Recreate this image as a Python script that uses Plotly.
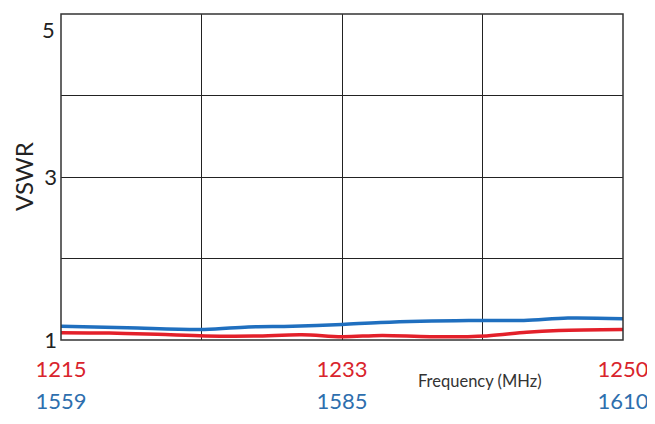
import numpy as np
import plotly.graph_objects as go

# Data
red_freq = [1215, 1218, 1221, 1224, 1227, 1230, 1232.5, 1235, 1238, 1241.5, 1244, 1246, 1250]
red_vswr = [1.09, 1.085, 1.07, 1.05, 1.048, 1.064, 1.04, 1.056, 1.04, 1.05, 1.096, 1.116, 1.128]
blue_freq = [1559, 1565, 1572, 1576, 1580, 1584.5, 1588, 1596, 1601, 1605, 1610]
blue_vswr = [1.168, 1.15, 1.13, 1.16, 1.168, 1.19, 1.216, 1.24, 1.24, 1.27, 1.26]

red_range = [1215, 1250]
blue_range = [1559, 1610]
red_ticktext = ["1215", "", "1233", "", "1250"]
blue_ticktext = ["1559", "", "1585", "", "1610"]
y_range = [1, 5]
y_ticktext = ["1", "", "3", "", "5"]
y_title = "VSWR"
x_title = "Frequency (MHz)"

RED = "#e3202a"
BLUE = "#1f6fbf"
RED_T = "#d9242c"
BLUE_T = "#2e6fae"
FONT = "Lato"

y_tickvals = list(np.linspace(*y_range, 5))

fig = go.Figure()
fig.add_trace(go.Scatter(x=red_freq, y=red_vswr, mode="lines", xaxis="x", yaxis="y",
                         line=dict(color=RED, width=3.5, shape="spline"), showlegend=False))
fig.add_trace(go.Scatter(x=blue_freq, y=blue_vswr, mode="lines", xaxis="x2", yaxis="y",
                         line=dict(color=BLUE, width=3.5, shape="spline"), showlegend=False))

fig.update_layout(
    width=647, height=416,
    margin=dict(l=53, r=32, t=6, b=84),
    paper_bgcolor="white", plot_bgcolor="white",
    font=dict(family=FONT, color="#222"),
    xaxis=dict(range=red_range, tickvals=list(np.linspace(*red_range, 5)), ticktext=red_ticktext,
               showgrid=True, gridcolor="#222", gridwidth=1, zeroline=False,
               showline=False,
               ticks="", ticklabelstandoff=14, automargin=False, ticklabeloverflow="allow",
               tickfont=dict(family=FONT, size=22, color=RED_T)),
    xaxis2=dict(range=blue_range, overlaying="x", side="bottom", anchor="y",
                tickvals=list(np.linspace(*blue_range, 5)), ticktext=blue_ticktext,
                showgrid=False, zeroline=False, showline=False, ticks="",
                ticklabelstandoff=46, automargin=False, ticklabeloverflow="allow",
                tickfont=dict(family=FONT, size=22, color=BLUE_T)),
    yaxis=dict(range=y_range, tickvals=y_tickvals[:-1], ticktext=y_ticktext[:-1],
               showgrid=True, gridcolor="#222", gridwidth=1, zeroline=False,
               showline=False,
               ticks="", ticklabelstandoff=3, automargin=False, ticklabeloverflow="allow",
               tickfont=dict(family=FONT, size=22, color="#222")),
    shapes=[dict(type="rect", xref="paper", yref="paper", x0=0, x1=1, y0=0, y1=1,
                 line=dict(color="#333", width=1.5), layer="above")],
    annotations=[
        dict(text=x_title, xref="paper", yref="paper", x=0.745, y=-0.1265,
             xanchor="center", yanchor="middle", showarrow=False,
             font=dict(family=FONT, size=16.5, color="#333")),
        dict(text=y_title, xref="paper", yref="paper", x=0, y=0.5, textangle=-90,
             xanchor="center", yanchor="middle", xshift=-38, showarrow=False,
             font=dict(family=FONT, size=24, color="#222")),
        dict(text=y_ticktext[-1], xref="paper", yref="y", x=0, y=y_tickvals[-1],
             xanchor="right", yanchor="top", xshift=-4, yshift=0, showarrow=False,
             font=dict(family=FONT, size=22, color="#222")),
    ],
)

fig.write_html("out.html")
